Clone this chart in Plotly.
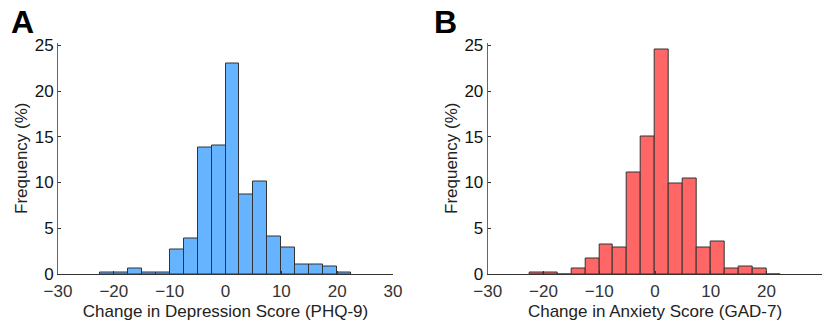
import plotly.graph_objects as go
from plotly.subplots import make_subplots

# Bin centres (bin width 2.5)
bin_centers = [-21.25, -18.75, -16.25, -13.75, -11.25, -8.75, -6.25, -3.75, -1.25,
               1.25, 3.75, 6.25, 8.75, 11.25, 13.75, 16.25, 18.75, 21.25]
bin_width = 2.5

phq9_freq = [0.2, 0.2, 0.55, 0.2, 0.2, 2.64, 3.84, 13.8, 14.02,
             23.04, 8.7, 10.1, 4.13, 2.93, 1.09, 1.09, 0.8, 0.2]
gad7_freq = [0.2, 0.2, 0.0, 0.55, 1.74, 3.22, 2.93, 11.09, 15.0,
             24.57, 9.86, 10.47, 2.93, 3.59, 0.55, 0.83, 0.55, 0.0]

x_ticks = [-30, -20, -10, 0, 10, 20, 30]
y_ticks = [0, 5, 10, 15, 20, 25]

x_title_a = "Change in Depression Score (PHQ-9)"
x_title_b = "Change in Anxiety Score (GAD-7)"
y_title = "Frequency (%)"

FONT = "Liberation Sans, Arial, sans-serif"

fig = make_subplots(rows=1, cols=2)

fig.add_trace(go.Bar(x=bin_centers, y=phq9_freq, width=bin_width,
                     marker=dict(color="#66B3FF", line=dict(color="#333333", width=1)),
                     showlegend=False), row=1, col=1)
fig.add_trace(go.Bar(x=bin_centers, y=gad7_freq, width=bin_width,
                     marker=dict(color="#FF6666", line=dict(color="#333333", width=1)),
                     showlegend=False), row=1, col=2)

ydom = [50 / 324, (324 - 42.5) / 324]
xax_common = dict(range=[-30, 30], tickvals=x_ticks, ticks="inside", ticklen=3,
                  tickcolor="#333333", showline=True, linecolor="#333333", linewidth=1,
                  showgrid=False, zeroline=False, automargin=False,
                  ticklabelstandoff=2,
                  tickfont=dict(family=FONT, size=17, color="#333333"),
                  title_font=dict(family=FONT, size=17, color="#222222"),
                  title_standoff=4)
yax_common = dict(range=[0, 25.3], tickvals=y_ticks, ticks="inside", ticklen=3,
                  tickcolor="#333333", showline=True, linecolor="#666666", linewidth=1,
                  showgrid=False, zeroline=False, domain=ydom, automargin=False,
                  tickfont=dict(family=FONT, size=17, color="#111111"),
                  title_font=dict(family=FONT, size=17, color="#222222"),
                  title_standoff=2)

fig.update_xaxes(**xax_common, row=1, col=1, domain=[58 / 831, 393 / 831], title_text=x_title_a)
fig.update_xaxes(**xax_common, row=1, col=2, domain=[487.7 / 831, 822.3 / 831], title_text=x_title_b)
fig.update_yaxes(**yax_common, row=1, col=1, title_text=y_title)
fig.update_yaxes(**yax_common, row=1, col=2, title_text=y_title)

fig.add_annotation(text="<b>A</b>", x=9 / 831, y=1 - 22 / 324, xref="paper", yref="paper",
                   xanchor="left", yanchor="middle", showarrow=False,
                   font=dict(family=FONT, size=32, color="black"))
fig.add_annotation(text="<b>B</b>", x=432 / 831, y=1 - 22 / 324, xref="paper", yref="paper",
                   xanchor="left", yanchor="middle", showarrow=False,
                   font=dict(family=FONT, size=32, color="black"))

fig.update_layout(width=831, height=324, margin=dict(l=0, r=0, t=0, b=0),
                  plot_bgcolor="white", paper_bgcolor="white", bargap=0,
                  font=dict(family=FONT))

fig.write_html("out.html", config={"displayModeBar": False},
               post_script="document.body.style.margin='0';document.body.style.overflow='hidden';")
